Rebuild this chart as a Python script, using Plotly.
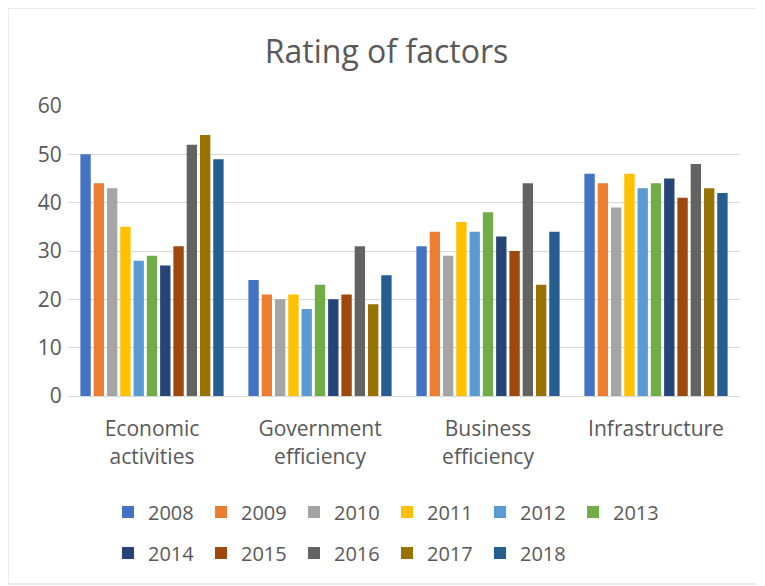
import plotly.graph_objects as go

categories = ["Economic<br>activities", "Government<br>efficiency", "Business<br>efficiency", "Infrastructure"]
years = ["2008", "2009", "2010", "2011", "2012", "2013", "2014", "2015", "2016", "2017", "2018"]
colors = ["#4472C4", "#ED7D31", "#A5A5A5", "#FFC000", "#5B9BD5", "#70AD47",
          "#264478", "#9E480E", "#636363", "#997300", "#255E91"]

v2008 = [50, 24, 31, 46]
v2009 = [44, 21, 34, 44]
v2010 = [43, 20, 29, 39]
v2011 = [35, 21, 36, 46]
v2012 = [28, 18, 34, 43]
v2013 = [29, 23, 38, 44]
v2014 = [27, 20, 33, 45]
v2015 = [31, 21, 30, 41]
v2016 = [52, 31, 44, 48]
v2017 = [54, 19, 23, 43]
v2018 = [49, 25, 34, 42]
series = [v2008, v2009, v2010, v2011, v2012, v2013, v2014, v2015, v2016, v2017, v2018]

FONT = "Open Sans"
TXT = "#595959"
FS = 21
LFS = 20

# page offset of the figure (browser body margin)
OFF = 8
W, H = 765 - OFF, 586 - OFF
# plot area in reference pixels, shifted into figure coordinates
L, R, T, B = 68 - OFF, 740 - OFF, 106 - OFF, 396 - OFF

pw, ph = R - L, B - T
def px(x):
    return (x - OFF - L) / pw
def py(y):
    return (B - (y - OFF)) / ph

fig = go.Figure()
for i, (y, vals, c) in enumerate(zip(years, series, colors)):
    fig.add_trace(go.Bar(
        x=categories, y=vals, name=y, marker_color=c,
        marker_line_width=0,
        legend="legend" if i < 6 else "legend2",
    ))

leg_common = dict(orientation="h", xanchor="left", yanchor="middle",
                  font=dict(family=FONT, size=LFS, color=TXT), entrywidth=48,
                  entrywidthmode="pixels", itemclick=False, traceorder="normal",
                  bgcolor="rgba(0,0,0,0)")

fig.update_layout(
    width=W, height=H,
    margin=dict(l=L, r=W - R, t=T, b=H - B, autoexpand=False),
    paper_bgcolor="white", plot_bgcolor="white",
    barmode="group", bargap=0.13, bargroupgap=0.22,
    title=dict(text="Rating of factors", x=0.5, xanchor="center",
               y=1 - (52 - OFF) / H, yanchor="middle",
               font=dict(family=FONT, size=32, color=TXT)),
    font=dict(family=FONT, color=TXT),
    xaxis=dict(tickfont=dict(family=FONT, size=FS, color=TXT), showgrid=False,
               showline=True, linecolor="#D9D9D9", linewidth=1,
               ticks="outside", ticklen=14, tickcolor="rgba(0,0,0,0)"),
    yaxis=dict(range=[0, 60], dtick=10, tickfont=dict(family=FONT, size=FS, color=TXT),
               gridcolor="#D9D9D9", gridwidth=1, zeroline=False, showline=False,
               ticks="outside", ticklen=1, tickcolor="rgba(0,0,0,0)"),
    legend=dict(leg_common, x=px(108), y=py(512)),
    legend2=dict(leg_common, x=px(108), y=py(553)),
    shapes=[dict(type="rect", xref="paper", yref="paper",
                 x0=px(OFF), x1=px(763), y0=py(584), y1=py(OFF),
                 line=dict(color="#D9D9D9", width=1), fillcolor="rgba(0,0,0,0)",
                 layer="below")],
)

fig.write_html("out.html")
